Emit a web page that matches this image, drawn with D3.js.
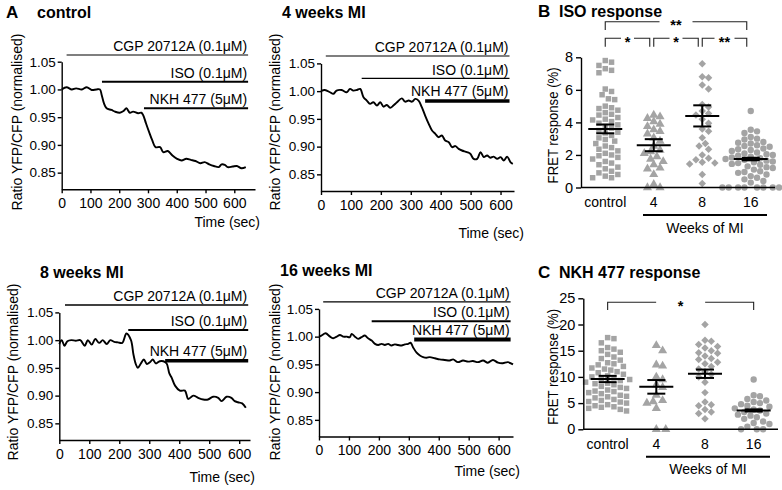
<!DOCTYPE html>
<html><head><meta charset="utf-8">
<script src="https://cdn.jsdelivr.net/npm/d3@7"></script>
<style>
body{margin:0;background:#fff}
svg{font-family:"Liberation Sans",Arial,sans-serif}
</style></head><body>
<svg id="c" width="782" height="490"></svg>
<script>
// ---------- DATA ----------
const drugLabels = ["CGP 20712A (0.1μM)", "ISO (0.1μM)", "NKH 477 (5μM)"];
const ratioTicks = [0.85, 0.90, 0.95, 1.00, 1.05];
const timeTicks = [0, 100, 200, 300, 400, 500, 600];

const ctrlTime = [0,17,35,50,70,87,104,121,133,139,147,156,173,185,202,215,225,237,248,266,277,283,293,304,315,326,342,353,369,385,401,417,433,449,465,482,497,513,529,546,556,567,577,594,609,625,640];
const ctrlRatio = [1.000,1.004,1.000,1.002,1.000,1.004,0.999,1.000,1.000,0.990,0.975,0.966,0.963,0.960,0.958,0.961,0.966,0.958,0.960,0.957,0.958,0.954,0.939,0.923,0.908,0.896,0.896,0.887,0.889,0.881,0.875,0.872,0.875,0.873,0.871,0.867,0.869,0.865,0.862,0.860,0.865,0.864,0.860,0.861,0.862,0.858,0.860];
const ctrlDrugStart = [17, 140, 286];
const ctrlDrugEnd = 648;

const wk4Time = [0,13,30,41,52,69,86,97,108,120,131,142,153,164,175,187,198,209,220,231,242,254,270,281,293,304,315,326,337,348,360,371,382,393,404,415,427,438,449,460,471,488,499,510,522,533,544,555,566,577,589,600,611,622,633,641];
const wk4Ratio = [1.000,1.002,0.998,0.995,1.001,1.002,0.998,1.004,1.001,1.002,1.004,0.989,0.983,0.977,0.980,0.974,0.980,0.972,0.975,0.970,0.974,0.980,0.987,0.981,0.983,0.981,0.986,0.983,0.971,0.956,0.941,0.929,0.923,0.917,0.920,0.911,0.908,0.899,0.901,0.896,0.893,0.890,0.887,0.878,0.878,0.890,0.881,0.884,0.880,0.882,0.878,0.881,0.875,0.882,0.872,0.869];
const wk4DrugStart = [16, 136, 348];
const wk4DrugEnd = 630;

const wk8Time = [0,8,17,27,40,55,70,85,95,108,120,133,145,158,170,183,196,210,224,239,247,255,262,272,282,292,302,312,322,335,347,358,367,375,386,402,419,430,447,463,480,496,513,530,541,558,574,585,596,610,622];
const wk8Ratio = [0.993,1.000,0.990,0.998,1.000,0.999,1.000,0.990,1.000,0.992,1.002,0.995,1.000,0.993,1.000,0.997,0.996,0.995,1.012,1.000,0.975,0.957,0.950,0.958,0.965,0.957,0.960,0.965,0.958,0.962,0.962,0.958,0.940,0.932,0.918,0.909,0.909,0.894,0.900,0.896,0.893,0.893,0.898,0.896,0.890,0.898,0.896,0.890,0.888,0.886,0.878];
const wk8DrugStart = [19, 230, 353];
const wk8DrugEnd = 630;

const wk16Time = [0,8,22,37,48,59,70,81,92,103,109,120,131,142,153,164,176,187,198,209,220,231,242,253,264,276,287,298,306,314,326,337,348,359,370,387,403,420,437,448,464,481,498,514,531,548,564,581,598,614,631,648];
const wk16Ratio = [1.000,1.002,1.006,1.000,0.997,1.000,1.003,1.000,1.000,0.999,1.005,1.000,0.996,0.999,1.002,0.997,0.993,0.987,0.985,0.987,0.985,0.987,0.984,0.986,0.985,0.984,0.986,0.987,0.989,0.981,0.971,0.966,0.963,0.962,0.963,0.961,0.959,0.958,0.957,0.959,0.954,0.957,0.955,0.956,0.954,0.957,0.953,0.958,0.953,0.952,0.954,0.950];
const wk16DrugStart = [14, 176, 318];
const wk16DrugEnd = 640;

const groups = ["control", "4", "8", "16"];

const isoControl = [7.8,7.7,7.5,7.3,7.2,7.05,6.05,5.9,5.7,5.45,5.4,5.0,4.9,4.85,4.75,4.6,4.5,4.45,4.3,4.2,4.15,4.05,3.95,3.85,3.75,3.65,3.5,3.4,3.35,3.2,3.05,2.95,2.85,2.7,2.55,2.45,2.35,2.25,2.1,2.0,1.95,1.85,1.75,1.6,1.5,1.4,1.25,1.15,1.0,0.9,0.8,0.7,0.6,0.6];
const iso4 = [4.45,4.35,4.25,4.05,3.9,3.75,3.55,3.45,3.3,3.05,2.85,2.55,2.3,2.2,2.1,1.9,1.75,1.6,1.4,1.2,1.15,0.8,0.2,0.0,0.0];
const iso8 = [7.6,6.8,6.75,6.3,6.05,5.1,4.95,4.7,4.55,4.45,4.2,3.95,3.6,3.45,3.05,2.7,2.55,2.35,2.0,1.8,1.7,1.55,1.5,1.45,0.8,0.25];
const iso16 = [4.7,3.55,3.45,3.35,3.1,3.0,2.95,2.8,2.75,2.7,2.6,2.55,2.5,2.4,2.35,2.3,2.25,2.15,2.1,2.05,2.0,1.95,1.9,1.85,1.8,1.75,1.7,1.65,1.6,1.55,1.5,1.45,1.4,1.3,1.25,1.2,1.1,1.0,0.95,0.9,0.8,0.7,0.6,0.5,0.4,0.3,0,0,0,0,0,0,0,0];
const isoMean = [3.6, 2.6, 4.4, 1.75];
const isoSem = [0.27, 0.37, 0.65, 0.08];
const isoTicks = [0, 2, 4, 6, 8];
const isoStars = ["**", "*", "*", "**"];
const isoPairs = [[0,3],[0,1],[1,2],[2,3]];

const nkhControl = [17.5,17.3,16.5,15.6,15.3,15.0,14.7,14.3,13.8,13.5,13.2,12.7,12.5,12.3,12.0,11.7,11.5,11.3,11.0,10.8,10.5,10.2,10.0,9.8,9.7,9.5,9.3,9.0,8.8,8.7,8.5,8.2,8.0,7.8,7.5,7.3,7.2,7.0,6.8,6.5,6.3,6.2,6.0,5.7,5.5,5.3,5.2,5.0,4.7,4.5,4.3,4.2,4.0,3.8,3.5];
const nkh4 = [16.0,15.0,12.3,12.1,10.0,9.5,8.5,8.0,6.5,5.5,5.3,5.0,4.0,0.0,0.0];
const nkh8 = [20.0,17.0,16.8,16.2,15.8,15.5,15.0,14.6,14.5,14.0,13.5,13.3,12.8,12.5,12.0,11.5,11.0,10.5,10.0,9.0,7.0,5.2,4.7,4.5,3.8,3.3,3.0,2.0];
const nkh16 = [9.5,6.5,6.3,5.8,5.5,5.2,5.0,4.8,4.5,4.3,4.0,3.8,3.6,3.3,3.0,2.8,2.6,2.3,2.0,1.5,1.2,1.0,0.5,0.0,0.0,0.0];
const nkhMean = [9.6, 8.1, 10.6, 3.6];
const nkhSem = [0.6, 1.3, 0.8, 0.2];
const nkhTicks = [0, 5, 10, 15, 20, 25];
const nkhStars = ["*"];
const nkhPairs = [[0,3]];

// ---------- DRAW ----------
const svg = d3.select("#c");
const FONT = '"Liberation Sans",Arial,sans-serif';

function styleAxis(g, fs){
  g.attr("font-family", FONT).attr("font-size", fs);
  g.selectAll("path,line").attr("stroke", "#000").attr("stroke-width", 1.4);
  g.selectAll("text").attr("fill", "#000");
}

function timePanel(c){
  const x = d3.scaleLinear().domain([0, c.xMax]).range([c.x0, c.x1]);
  const y = d3.scaleLinear().domain([0.82, 1.05]).range([c.yBot, c.yBot - 127.6]);
  const g = svg.append("g");
  const ya = g.append("g").attr("transform", `translate(${c.x0},0)`)
    .call(d3.axisLeft(y).tickValues(ratioTicks).tickFormat(d3.format(".2f")).tickSize(4).tickPadding(2).tickSizeOuter(0));
  styleAxis(ya, 13.5);
  const xa = g.append("g").attr("transform", `translate(0,${c.yBot})`)
    .call(d3.axisBottom(x).tickValues(timeTicks).tickSize(4).tickPadding(5).tickSizeOuter(0));
  styleAxis(xa, 14);

  g.append("path").datum(d3.zip(c.t, c.v))
    .attr("d", d3.line().x(d => x(d[0])).y(d => y(d[1])).curve(d3.curveCatmullRom))
    .attr("fill", "none").attr("stroke", "#000").attr("stroke-width", 1.9);

  drugLabels.forEach((lab, i) => {
    const yy = y(1.05) + c.barOff[i];
    g.append("line").attr("x1", x(c.drugs[i])).attr("x2", x(c.drugEnd))
      .attr("y1", yy).attr("y2", yy).attr("stroke", "#000").attr("stroke-width", c.barW[i]);
    g.append("text").attr("x", x(c.drugEnd) - 1).attr("y", yy - c.barW[i] / 2 - 3)
      .attr("text-anchor", "end").attr("font-size", 14).text(lab);
  });

  if (c.letter) g.append("text").attr("x", 6).attr("y", c.titleY).attr("font-size", 17).attr("font-weight", "bold").text(c.letter);
  g.append("text").attr("x", c.titleX).attr("y", c.titleY).attr("font-size", 16).attr("font-weight", "bold").text(c.title);
  g.append("text").attr("transform", `translate(${c.ylabX},${c.ylabY}) rotate(-90)`).attr("dy", "0.35em")
    .attr("text-anchor", "middle").attr("font-size", 14).text("Ratio YFP/CFP (normalised)");
  g.append("text").attr("x", c.xlabX).attr("y", c.xlabY).attr("text-anchor", "end").attr("font-size", 14).text("Time (sec)");
}

timePanel({title:"control", letter:"A", t:ctrlTime, v:ctrlRatio, drugs:ctrlDrugStart, drugEnd:ctrlDrugEnd,
  x0:61.7, x1:255, xMax:672, yBot:189.3, titleX:37, titleY:18, ylabX:17, ylabY:122, xlabX:260, xlabY:227,
  barOff:[-6.7, 20, 46.6], barW:[1.2, 2, 2]});
timePanel({title:"4 weeks MI", t:wk4Time, v:wk4Ratio, drugs:wk4DrugStart, drugEnd:wk4DrugEnd,
  x0:321, x1:514, xMax:645, yBot:191, titleX:282, titleY:18, ylabX:275, ylabY:122, xlabX:524, xlabY:238,
  barOff:[-7.4, 15, 37.7], barW:[1.2, 1.2, 3.5]});
timePanel({title:"8 weeks MI", t:wk8Time, v:wk8Ratio, drugs:wk8DrugStart, drugEnd:wk8DrugEnd,
  x0:59.3, x1:250, xMax:636, yBot:440, titleX:40, titleY:277.5, ylabX:13.5, ylabY:372, xlabX:255, xlabY:481.5,
  barOff:[-7.4, 17.6, 48.3], barW:[1.5, 2, 3.5]});
timePanel({title:"16 weeks MI", t:wk16Time, v:wk16Ratio, drugs:wk16DrugStart, drugEnd:wk16DrugEnd,
  x0:319, x1:513, xMax:648, yBot:436.5, titleX:280, titleY:276, ylabX:275.5, ylabY:372, xlabX:520, xlabY:476,
  barOff:[-7, 12.3, 30.6], barW:[1.2, 2, 4]});

// beeswarm layout
function swarm(vals, y, cx, d){
  const pts = vals.map(v => ({v, y: y(v)})).sort((a, b) => a.y - b.y);
  const placed = [];
  for (const p of pts){
    for (let k = 0; k < 80; k++){
      const off = k === 0 ? 0 : (k % 2 ? 1 : -1) * Math.ceil(k / 2) * d * 0.5;
      const xx = cx + off;
      if (placed.every(q => (q.x - xx) ** 2 + (q.y - p.y) ** 2 >= d * d)){ p.x = xx; break; }
    }
    placed.push(p);
  }
  return placed;
}

const shapes = [
  {type: d3.symbolSquare, size: 30, rot: 0},
  {type: d3.symbolTriangle, size: 36, rot: 0},
  {type: d3.symbolSquare, size: 28, rot: 45},
  {type: d3.symbolCircle, size: 32, rot: 0}
];

function dotPanel(c){
  const x = d3.scaleBand().domain(groups).range([c.x0, c.x1]);
  const y = d3.scaleLinear().domain([0, c.yMax]).range([c.yBot, c.yTop]);
  const g = svg.append("g");
  const cx = k => x(k) + x.bandwidth() / 2;

  c.sets.forEach((vals, i) => {
    const pts = swarm(vals, y, cx(groups[i]), 6.3);
    const sym = d3.symbol().type(shapes[i].type).size(shapes[i].size);
    g.selectAll(null).data(pts).join("path")
      .attr("d", sym).attr("fill", "#a4a4a4")
      .attr("transform", d => `translate(${d.x},${d.y}) rotate(${shapes[i].rot})`);
  });
  // mean and SEM
  c.mean.forEach((m, i) => {
    const xc = cx(groups[i]);
    const ln = (x1, y1, x2, y2) => g.append("line").attr("x1", x1).attr("y1", y1).attr("x2", x2).attr("y2", y2)
      .attr("stroke", "#000").attr("stroke-width", 2);
    ln(xc - 17, y(m), xc + 17, y(m));
    ln(xc, y(m - c.sem[i]), xc, y(m + c.sem[i]));
    ln(xc - 9, y(m - c.sem[i]), xc + 9, y(m - c.sem[i]));
    ln(xc - 9, y(m + c.sem[i]), xc + 9, y(m + c.sem[i]));
  });

  const ya = g.append("g").attr("transform", `translate(${c.x0},0)`)
    .call(d3.axisLeft(y).tickValues(c.ticks).tickSize(5).tickPadding(3).tickSizeOuter(0));
  styleAxis(ya, 14.5);
  g.append("line").attr("x1", c.x0).attr("x2", c.x1).attr("y1", c.yBot).attr("y2", c.yBot)
    .attr("stroke", "#000").attr("stroke-width", 1.4);

  groups.forEach(k => g.append("text").attr("x", cx(k)).attr("y", c.yBot + 19.5)
    .attr("text-anchor", "middle").attr("font-size", 14).text(k));
  g.append("line").attr("x1", c.mx0).attr("x2", c.mx1).attr("y1", c.yBot + 27.5).attr("y2", c.yBot + 27.5)
    .attr("stroke", "#000").attr("stroke-width", 2);
  g.append("text").attr("x", (c.mx0 + c.mx1) / 2).attr("y", c.yBot + 45).attr("text-anchor", "middle")
    .attr("font-size", 14).text("Weeks of MI");

  g.append("text").attr("transform", `translate(${c.ylabX},${(c.yBot + c.yTop) / 2 + 3}) rotate(-90)`).attr("dy", "0.35em")
    .attr("text-anchor", "middle").attr("font-size", 14.5).attr("textLength", 116).attr("lengthAdjust", "spacingAndGlyphs")
    .text("FRET response (%)");

  g.append("text").attr("x", 538).attr("y", c.titleY).attr("font-size", 17).attr("font-weight", "bold").text(c.letter);
  g.append("text").attr("x", 559).attr("y", c.titleY).attr("font-size", 16).attr("font-weight", "bold").text(c.title);

  // significance brackets
  c.pairs.forEach((p, i) => {
    const xl = cx(groups[p[0]]), xr = cx(groups[p[1]]) - c.rightInset;
    const yb = c.brY[i], leg = c.brLeg, gap = c.gaps[i];
    const xm = (xl + xr) / 2;
    g.append("path").attr("d", `M${xl},${yb + leg}V${yb}H${xm - gap}M${xm + gap},${yb}H${xr}V${yb + leg}`)
      .attr("fill", "none").attr("stroke", "#222").attr("stroke-width", 1.1);
    g.append("text").attr("x", xm).attr("y", yb + 8.6).attr("text-anchor", "middle")
      .attr("font-size", 14.5).attr("font-weight", "bold").text(c.stars[i]);
  });
}

dotPanel({letter:"B", title:"ISO response", sets:[isoControl, iso4, iso8, iso16], mean:isoMean, sem:isoSem,
  ticks:isoTicks, yMax:8, x0:581, x1:775, yBot:187.5, yTop:57.3, mx0:643, mx1:767, ylabX:552.5, titleY:16.5,
  pairs:isoPairs, stars:isoStars, brY:[21.7, 38.3, 38.3, 38.3], brLeg:8.4, gaps:[16.5, 6.5, 6.5, 10], rightInset:4});
dotPanel({letter:"C", title:"NKH 477 response", sets:[nkhControl, nkh4, nkh8, nkh16], mean:nkhMean, sem:nkhSem,
  ticks:nkhTicks, yMax:25, x0:583.3, x1:778, yBot:429.3, yTop:298.3, mx0:646, mx1:770, ylabX:552.5, titleY:277.5,
  pairs:nkhPairs, stars:nkhStars, brY:[302.3], brLeg:7.7, gaps:[24.5], rightInset:0});
</script>
</body></html>
